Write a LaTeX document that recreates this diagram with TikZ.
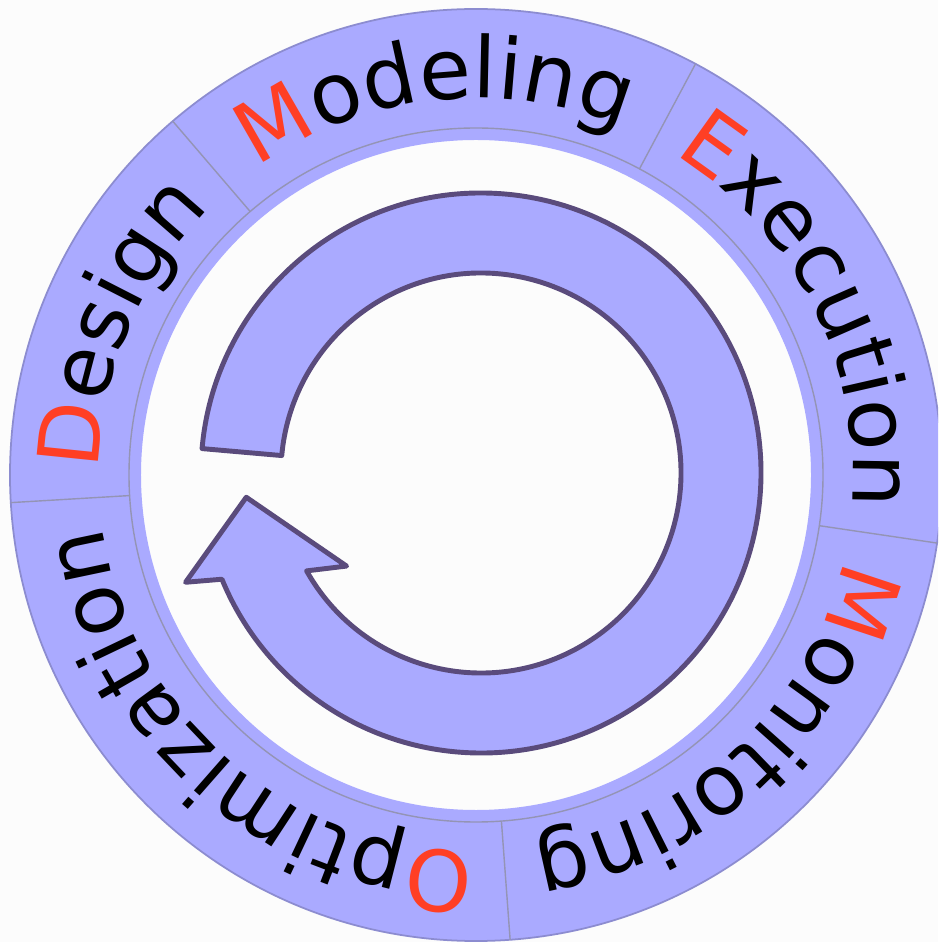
\documentclass[tikz,border=0pt]{standalone}
\usepackage{fontspec}
\setmainfont{DejaVu Sans}
\usetikzlibrary{decorations.text}
\definecolor{paper}{HTML}{FCFCFC}
\definecolor{band}{HTML}{AAAAFF}
\definecolor{rim}{HTML}{8C8CD0}
\definecolor{seam}{HTML}{9494B4}
\definecolor{loopline}{HTML}{5A4B7C}
\definecolor{initial}{HTML}{FF3F24}
\newcommand{\RingOut}{4.66}
\newcommand{\RingIn}{3.35}
\newcommand{\SeamIn}{3.47}
\newcommand{\TextR}{3.77}
\newcommand{\LoopOut}{2.80}
\newcommand{\LoopIn}{2.00}
\newcommand{\RingFont}{\fontsize{24}{29}\selectfont}

\begin{document}
\RingFont
\begin{tikzpicture}[
    seam/.style={draw=seam, line width=0.4pt},
    loop/.style={draw=loopline, fill=band, line width=1.4pt, line join=round},
  ]
\useasboundingbox (-4.76,-4.67) rectangle (4.62,4.75);
\fill[paper] (-4.76,-4.67) rectangle (4.62,4.75);
\clip (-4.76,-4.67) rectangle (4.62,4.75);

% --- The ring and its five seams ---------------------------------------------
\fill[band, even odd rule] (0,0) circle[radius=\RingOut] (0,0) circle[radius=\RingIn];
\draw[rim, line width=0.5pt] (0,0) circle[radius=\RingOut];
\draw[seam] (0,0) circle[radius=\SeamIn];
\foreach \a in {130.6, 61.9, -8.4, -85.8, 183.4} {
  \draw[seam] (\a:\SeamIn) -- (\a:\RingOut);
}

% --- The phases, read clockwise ------------------------------------------------
\foreach \from/\to/\word in {
    183.4/130.6/{|\color{initial}|D|\color{black}|esign},
    130.6/61.9/{|\color{initial}|M|\color{black}|odeling},
    61.9/-8.4/{|\color{initial}|E|\color{black}|xecution},
    -8.4/-85.8/{|\color{initial}|M|\color{black}|onitoring},
    274.2/183.4/{|\color{initial}|O|\color{black}|ptimization}} {
  \path[decorate, decoration={text along path, text align=center, text/.expand once=\word}]
    (\from:\TextR) arc[start angle=\from, end angle=\to, radius=\TextR];
}

% --- The loop arrow --------------------------------------------------------------
\draw[loop, shift={(0.05,0.02)}]
  (175:\LoopOut) arc[start angle=175, end angle=-157.7, radius=\LoopOut]
  -- (200.3:3.15) -- (185.9:2.36) -- (214.7:1.635) -- (209.3:\LoopIn)
  arc[start angle=-150.7, end angle=175, radius=\LoopIn] -- cycle;

\end{tikzpicture}
\end{document}
